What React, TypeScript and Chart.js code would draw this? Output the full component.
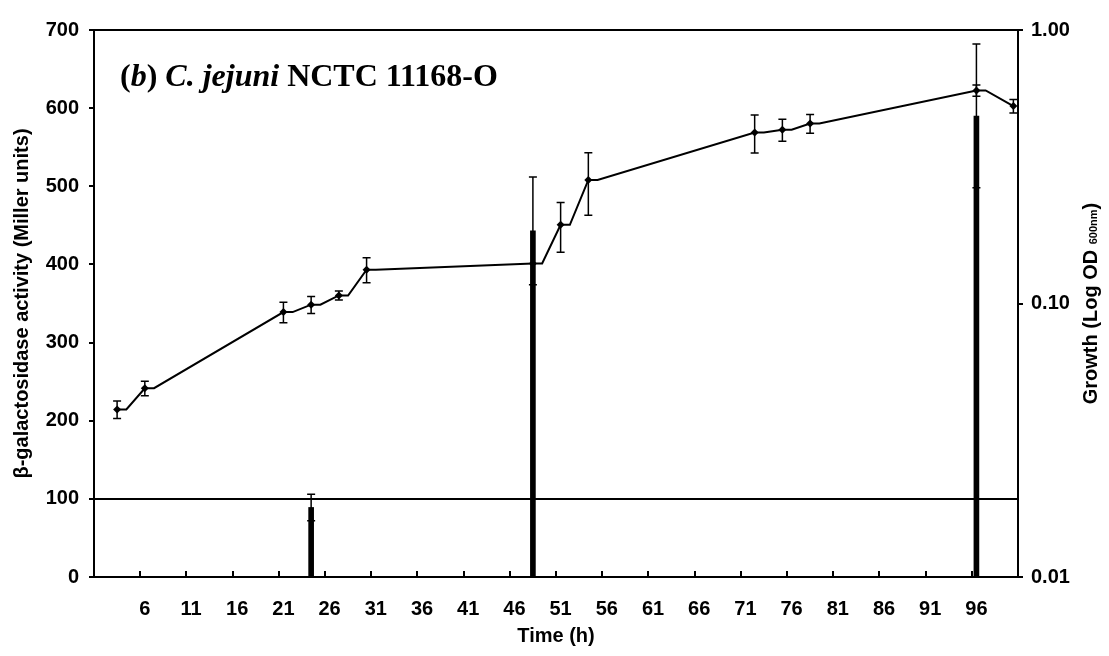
import { useEffect, useRef } from "react";
import { Chart, registerables } from "chart.js";

Chart.register(...registerables);

// Category axis: one slot per hour, 1 h to 100 h
const timeHours: number[] = Array.from({ length: 100 }, (_, i) => i + 1);
const timeTickLabels = [6, 11, 16, 21, 26, 31, 36, 41, 46, 51, 56, 61, 66, 71, 76, 81, 86, 91, 96];

// Growth, OD600 (right, logarithmic axis)
const growthHours = [3, 6, 21, 24, 27, 30, 48, 51, 54, 72, 75, 78, 96, 100];
const growthOD = [0.041, 0.049, 0.093, 0.099, 0.107, 0.133, 0.14, 0.194, 0.283, 0.422, 0.432, 0.455, 0.601, 0.527];
const growthErr = [0.003, 0.003, 0.008, 0.007, 0.004, 0.014, 0, 0.04, 0.073, 0.067, 0.04, 0.036, 0.028, 0.03];

// β-galactosidase activity, Miller units (left axis)
const activityHours = [24, 48, 96];
const activityMiller = [89, 443, 590];
const activityErr = [17, 69, 92];

const activityTicks = [0, 100, 200, 300, 400, 500, 600, 700];
const growthTicks = [0.01, 0.1, 1];
const baselineMiller = 100;

const SANS = "'Liberation Sans', Arial, sans-serif";
const SERIF = "'Liberation Serif', 'Times New Roman', serif";

const slot = (h: number) => timeHours.indexOf(h);

// Each OD reading is held for one hour before the line moves to the next reading
const growthLine: (number | null)[] = timeHours.map(() => null);
growthHours.forEach((h, i) => {
  growthLine[slot(h)] = growthOD[i];
  if (i < growthHours.length - 1) growthLine[slot(h) + 1] = growthOD[i];
});
const growthRadius = timeHours.map((h) => (growthHours.includes(h) ? 4 : 0));

const activityBars: (number | null)[] = timeHours.map((h) => {
  const k = activityHours.indexOf(h);
  return k >= 0 ? activityMiller[k] : null;
});

const decorPlugin = {
  id: "figureDecor",
  afterDatasetsDraw(chart: any) {
    const { ctx, scales } = chart;
    const { x, y, y2 } = scales;
    ctx.save();
    ctx.strokeStyle = "#000";
    ctx.lineWidth = 1.5;
    const cap = 4;
    const whisker = (px: number, top: number, bottom: number) => {
      ctx.beginPath();
      ctx.moveTo(px, top);
      ctx.lineTo(px, bottom);
      ctx.moveTo(px - cap, top);
      ctx.lineTo(px + cap, top);
      ctx.moveTo(px - cap, bottom);
      ctx.lineTo(px + cap, bottom);
      ctx.stroke();
    };
    activityHours.forEach((h, i) => {
      const px = x.getPixelForValue(slot(h));
      whisker(
        px,
        y.getPixelForValue(activityMiller[i] + activityErr[i]),
        y.getPixelForValue(activityMiller[i] - activityErr[i])
      );
    });
    growthHours.forEach((h, i) => {
      if (!growthErr[i]) return;
      const px = x.getPixelForValue(slot(h));
      whisker(
        px,
        y2.getPixelForValue(growthOD[i] + growthErr[i]),
        y2.getPixelForValue(growthOD[i] - growthErr[i])
      );
    });
    ctx.restore();
  },
  afterDraw(chart: any) {
    const { ctx, chartArea, scales } = chart;
    const { x } = scales;
    ctx.save();
    ctx.fillStyle = "#000";
    ctx.strokeStyle = "#000";

    // inside tick marks on the time axis, between categories
    const half = (x.getPixelForValue(1) - x.getPixelForValue(0)) / 2;
    ctx.lineWidth = 2;
    timeTickLabels.forEach((h) => {
      const px = Math.round(x.getPixelForValue(slot(h)) - half);
      ctx.beginPath();
      ctx.moveTo(px, chartArea.bottom);
      ctx.lineTo(px, chartArea.bottom - 6);
      ctx.stroke();
    });

    // panel heading
    const parts: [string, boolean][] = [
      ["(", false],
      ["b", true],
      [") ", false],
      ["C. jejuni", true],
      [" NCTC 11168-O", false],
    ];
    let tx = chartArea.left + 26;
    const ty = chartArea.top + 56;
    ctx.textBaseline = "alphabetic";
    ctx.textAlign = "left";
    parts.forEach(([s, it]) => {
      ctx.font = `${it ? "italic " : ""}bold 32px ${SERIF}`;
      ctx.fillText(s, tx, ty);
      tx += ctx.measureText(s).width;
    });

    const midY = (chartArea.top + chartArea.bottom) / 2;

    // left axis title
    ctx.save();
    ctx.translate(14, midY);
    ctx.rotate(-Math.PI / 2);
    ctx.font = `bold 20px ${SANS}`;
    ctx.textAlign = "center";
    ctx.textBaseline = "middle";
    ctx.fillText("β-galactosidase activity (Miller units)", 0, 0);
    ctx.restore();

    // right axis title with subscript
    ctx.save();
    ctx.translate(chart.width - 10, midY);
    ctx.rotate(-Math.PI / 2);
    ctx.textBaseline = "middle";
    const mainText = "Growth (Log OD ";
    const subText = "600nm";
    const endText = ")";
    ctx.font = `bold 20px ${SANS}`;
    const w1 = ctx.measureText(mainText).width;
    const w3 = ctx.measureText(endText).width;
    ctx.font = `bold 11px ${SANS}`;
    const w2 = ctx.measureText(subText).width;
    let rx = -(w1 + w2 + w3) / 2;
    ctx.textAlign = "left";
    ctx.font = `bold 20px ${SANS}`;
    ctx.fillText(mainText, rx, 0);
    rx += w1;
    ctx.font = `bold 11px ${SANS}`;
    ctx.fillText(subText, rx, 3);
    rx += w2;
    ctx.font = `bold 20px ${SANS}`;
    ctx.fillText(endText, rx, 0);
    ctx.restore();

    // time axis title
    ctx.font = `bold 20px ${SANS}`;
    ctx.textAlign = "center";
    ctx.textBaseline = "middle";
    ctx.fillText("Time (h)", (chartArea.left + chartArea.right) / 2, 628);

    ctx.restore();
  },
};

export default function App() {
  const canvasRef = useRef<HTMLCanvasElement | null>(null);

  useEffect(() => {
    if (!canvasRef.current) return;
    const tickFont = { family: SANS, size: 20, weight: "bold" as const };
    const chart = new Chart(canvasRef.current, {
      type: "bar",
      data: {
        labels: timeHours.map(String),
        datasets: [
          {
            type: "line",
            label: "Growth",
            data: growthLine,
            yAxisID: "y2",
            borderColor: "#000",
            borderWidth: 2,
            backgroundColor: "#000",
            pointStyle: "rectRot",
            pointRadius: growthRadius,
            pointBorderWidth: 0,
            pointBackgroundColor: "#000",
            spanGaps: true,
            tension: 0,
            order: 0,
          } as any,
          {
            type: "bar",
            label: "β-galactosidase",
            data: activityBars,
            yAxisID: "y",
            backgroundColor: "#000",
            borderWidth: 0,
            barThickness: 5,
            order: 1,
          } as any,
        ],
      },
      options: {
        animation: false,
        responsive: true,
        maintainAspectRatio: false,
        layout: { padding: { top: 15, left: 0, right: 0, bottom: 0 } },
        plugins: {
          legend: { display: false },
          tooltip: { enabled: false },
        },
        scales: {
          x: {
            type: "category",
            offset: true,
            grid: { display: false },
            border: { display: true, color: "#000", width: 2 },
            ticks: {
              autoSkip: false,
              maxRotation: 0,
              minRotation: 0,
              color: "#000",
              font: tickFont,
              padding: 12,
              callback: (_v: any, i: number) =>
                timeTickLabels.includes(timeHours[i]) ? String(timeHours[i]) : "",
            },
            afterFit: (s: any) => {
              s.height = 71;
            },
          },
          y: {
            type: "linear",
            position: "left",
            min: 0,
            max: 700,
            afterBuildTicks: (s: any) => {
              s.ticks = activityTicks.map((v) => ({ value: v }));
            },
            grid: {
              drawOnChartArea: true,
              color: (c: any) =>
                c.tick && (c.tick.value === baselineMiller || c.tick.value === 700)
                  ? "#000"
                  : "rgba(0,0,0,0)",
              lineWidth: 2,
              tickColor: "#000",
              tickLength: 5,
            },
            border: { display: true, color: "#000", width: 2 },
            ticks: { color: "#000", font: tickFont, padding: 10 },
            afterFit: (s: any) => {
              s.width = 86;
            },
          },
          y2: {
            type: "logarithmic",
            position: "right",
            min: 0.01,
            max: 1,
            afterBuildTicks: (s: any) => {
              s.ticks = growthTicks.map((v) => ({ value: v }));
            },
            grid: { drawOnChartArea: false, tickColor: "#000", tickLength: 5, lineWidth: 2 },
            border: { display: true, color: "#000", width: 2 },
            ticks: {
              color: "#000",
              font: tickFont,
              padding: 8,
              callback: (v: any) => Number(v).toFixed(2),
            },
            afterFit: (s: any) => {
              s.width = 83;
            },
          },
        },
      },
      plugins: [decorPlugin],
    });
    return () => chart.destroy();
  }, []);

  return (
    <div style={{ position: "relative", width: 1093, height: 640 }}>
      <canvas ref={canvasRef} />
    </div>
  );
}
